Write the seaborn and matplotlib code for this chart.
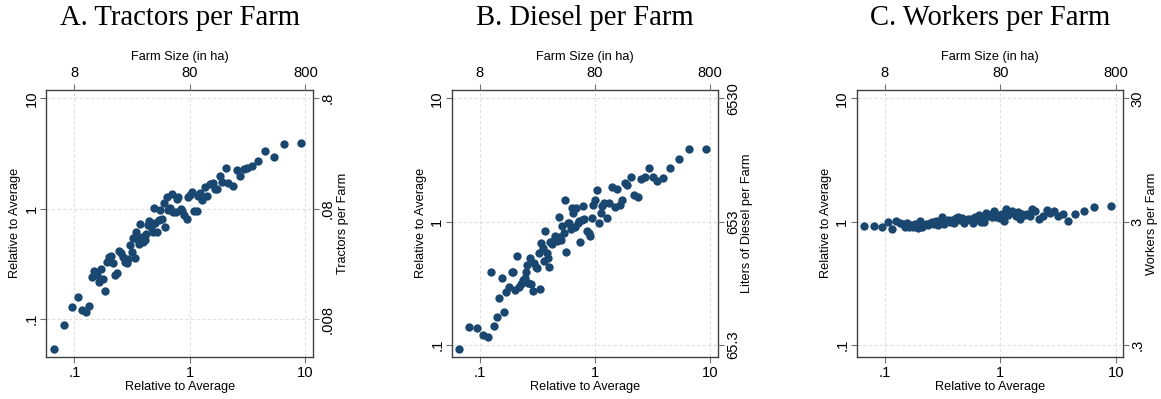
import matplotlib
matplotlib.use("Agg")
import numpy as np
import pandas as pd
import seaborn as sns
import matplotlib.pyplot as plt
from matplotlib.ticker import NullLocator

# ---------------- data (relative to average) ----------------
x_a = [0.0669,0.0811,0.0958,0.108,0.117,0.126,0.134,0.143,0.148,0.156,
       0.164,0.170,0.177,0.185,0.190,0.199,0.208,0.217,0.226,0.235,
       0.241,0.253,0.265,0.274,0.283,0.292,0.302,0.317,0.321,0.334,
       0.341,0.350,0.362,0.369,0.382,0.394,0.405,0.416,0.436,0.444,
       0.460,0.475,0.491,0.498,0.514,0.536,0.550,0.568,0.592,0.611,
       0.628,0.649,0.671,0.703,0.717,0.751,0.777,0.792,0.830,0.858,
       0.887,0.936,0.967,1.0,1.047,1.083,1.142,1.181,1.221,1.279,
       1.340,1.413,1.490,1.571,1.646,1.724,1.818,1.905,2.05,2.147,
       2.341,2.535,2.728,2.935,3.136,3.465,3.905,4.461,5.30,6.515,9.08]
y_a = [0.0535,0.0888,0.129,0.159,0.122,0.117,0.131,0.242,0.274,0.250,
       0.218,0.284,0.232,0.181,0.331,0.367,0.375,0.320,0.250,0.259,
       0.416,0.399,0.367,0.331,0.320,0.347,0.469,0.402,0.542,0.360,
       0.619,0.527,0.475,0.726,0.557,0.502,0.520,0.590,0.711,0.778,
       0.687,0.619,1.007,0.736,0.619,0.790,0.973,0.800,1.133,0.687,
       1.267,0.973,1.007,1.349,0.939,0.926,1.224,1.267,0.986,0.953,
       0.876,0.800,1.285,1.330,1.426,0.959,0.959,1.302,1.377,1.198,
       1.561,1.302,1.662,1.696,1.497,1.518,1.977,1.757,2.321,1.696,
       1.605,2.241,1.977,2.305,2.321,2.436,2.704,3.332,2.960,3.83,3.94]

x_b = [0.0664,0.0805,0.0951,0.107,0.117,0.125,0.133,0.141,0.148,0.155,
       0.163,0.170,0.179,0.189,0.195,0.203,0.210,0.217,0.228,0.238,
       0.245,0.250,0.259,0.264,0.271,0.278,0.290,0.297,0.307,0.316,
       0.324,0.331,0.342,0.351,0.363,0.370,0.380,0.388,0.399,0.410,
       0.423,0.438,0.452,0.465,0.480,0.490,0.503,0.520,0.538,0.553,
       0.564,0.583,0.599,0.615,0.631,0.644,0.666,0.684,0.707,0.731,
       0.746,0.766,0.792,0.808,0.847,0.881,0.911,0.942,0.967,1.007,
       1.034,1.083,1.120,1.158,1.205,1.271,1.332,1.405,1.482,1.563,
       1.637,1.727,1.822,1.909,2.040,2.181,2.362,2.526,2.735,2.963,
       3.210,3.477,3.894,4.479,5.327,6.506,9.14]
y_b = [0.0928,0.139,0.137,0.121,0.117,0.388,0.143,0.170,0.240,0.349,
       0.186,0.269,0.294,0.393,0.391,0.279,0.530,0.297,0.310,0.337,
       0.347,0.388,0.445,0.316,0.504,0.312,0.276,0.459,0.432,0.418,
       0.561,0.284,0.667,0.615,0.480,0.845,0.554,0.504,0.432,0.680,
       0.655,0.710,0.765,0.693,0.756,1.098,0.710,0.928,0.804,1.499,
       0.571,0.969,0.981,0.872,1.283,1.168,0.911,1.283,0.969,1.006,
       0.680,1.032,1.348,1.051,0.845,0.804,0.770,1.064,1.365,1.499,
       1.806,0.981,1.168,1.340,1.408,1.071,1.426,1.922,1.323,1.852,
       1.374,1.499,2.071,1.983,2.288,1.655,1.595,2.204,2.288,2.707,
       2.288,2.123,2.274,2.723,3.202,3.860,3.860]

x_c = [0.0665,0.0806,0.0951,0.107,0.115,0.125,0.135,0.143,0.148,0.155,
       0.161,0.167,0.174,0.181,0.189,0.195,0.202,0.208,0.218,0.227,
       0.236,0.246,0.256,0.267,0.277,0.287,0.300,0.313,0.325,0.339,
       0.352,0.367,0.382,0.397,0.413,0.430,0.447,0.466,0.485,0.504,
       0.525,0.553,0.576,0.599,0.624,0.649,0.676,0.703,0.727,0.751,
       0.782,0.814,0.847,0.882,0.917,0.954,0.993,1.034,1.076,1.112,
       1.157,1.205,1.254,1.305,1.358,1.413,1.480,1.550,1.624,1.713,
       1.795,1.880,2.009,2.162,2.326,2.518,2.710,2.935,3.178,3.465,
       3.853,4.431,5.266,6.471,9.02]
y_c = [0.922,0.917,0.911,0.988,0.877,1.012,0.981,0.957,0.911,0.981,
       0.911,0.934,0.911,0.957,0.928,0.889,1.006,0.911,0.934,0.957,
       0.946,0.969,0.988,0.957,1.006,0.946,1.006,1.084,0.957,1.006,
       1.032,1.000,1.032,0.981,1.064,1.084,1.038,1.064,0.981,1.032,
       1.044,1.058,0.969,1.098,1.058,1.140,0.988,1.098,0.994,1.168,
       1.111,1.140,1.098,1.213,1.098,1.132,1.071,1.154,1.012,1.275,
       1.140,1.198,1.228,1.168,1.111,1.198,1.044,1.147,1.140,1.154,
       1.111,1.259,1.213,1.058,1.119,1.243,1.168,1.228,1.111,1.154,
       1.019,1.154,1.213,1.315,1.348]

titles = ["A. Tractors per Farm", "B. Diesel per Farm", "C. Workers per Farm"]
right_titles = ["Tractors per Farm", "Liters of Diesel per Farm", "Workers per Farm"]
rel_ticks = [0.1, 1, 10]
rel_labels = [".1", "1", "10"]
size_ticks = [8, 80, 800]
size_labels = ["8", "80", "800"]
right_ticks = [[0.008, 0.08, 0.8], [65.3, 653, 6530], [0.3, 3, 30]]
right_labels = [[".008", ".08", ".8"], ["65.3", "653", "6530"], [".3", "3", "30"]]
right_scale = [0.08, 653, 3]
size_scale = 80

# ---------------- styling ----------------
sns.set_style("white")
plt.rcParams["font.family"] = ["Liberation Sans", "DejaVu Sans"]
plt.rcParams["text.color"] = "black"
plt.rcParams["xtick.labelcolor"] = "black"
plt.rcParams["ytick.labelcolor"] = "black"

W, H = 1161, 399
fig = plt.figure(figsize=(W / 100, H / 100), dpi=100)

boxes = [(46, 90, 313.3, 356.7), (451.7, 90, 718.3, 356.7), (856.7, 90, 1123.3, 356.7)]
xlims = [(-1.2468, 1.068), (-1.2446, 1.0709), (-1.2439, 1.065)]
ylims = [(-1.341, 1.0755), (-1.0946, 1.0676), (-1.0946, 1.0676)]
right_label_x = [343, 747, 1152]

navy = "#1a476f"
frame_c = "#404040"
tick_c = "#707070"
grid_c = "#e0e0e0"
TICK_FS = 10.6
LAB_FS = 9.2

panels = [(x_a, y_a), (x_b, y_b), (x_c, y_c)]
for i, (xs, ys) in enumerate(panels):
    l, t, r, b = boxes[i]
    ax = fig.add_axes([l / W, 1 - b / H, (r - l) / W, (b - t) / H])
    df = pd.DataFrame({"rel_size": xs, "rel_val": ys})
    sns.scatterplot(data=df, x="rel_size", y="rel_val", ax=ax, color=navy,
                    s=36, linewidth=0, zorder=3)
    ax.set_xscale("log")
    ax.set_yscale("log")
    ax.set_xlim(10 ** xlims[i][0], 10 ** xlims[i][1])
    ax.set_ylim(10 ** ylims[i][0], 10 ** ylims[i][1])
    ax.set_xticks(rel_ticks)
    ax.set_xticklabels(rel_labels, fontsize=TICK_FS)
    ax.set_yticks(rel_ticks)
    ax.set_yticklabels(rel_labels, fontsize=TICK_FS, rotation=90, va="center")
    ax.xaxis.set_minor_locator(NullLocator())
    ax.yaxis.set_minor_locator(NullLocator())
    ax.set_xlabel("")
    ax.set_ylabel("")
    ax.tick_params(axis="both", which="major", direction="out", length=4.3,
                   width=0.8, color=tick_c, labelcolor="black", bottom=True,
                   left=True, top=False, right=False)
    ax.tick_params(axis="x", pad=2.6)
    ax.tick_params(axis="y", pad=1.0)
    ax.grid(True, which="major", color=grid_c, linestyle=(0, (3, 2)), linewidth=0.8)
    ax.set_axisbelow(True)
    for sp in ax.spines.values():
        sp.set_color(frame_c)
        sp.set_linewidth(1.0)

    # top axis: farm size in ha
    axt = ax.twiny()
    axt.set_xscale("log")
    axt.set_xlim(size_scale * 10 ** xlims[i][0], size_scale * 10 ** xlims[i][1])
    axt.set_xticks(size_ticks)
    axt.set_xticklabels(size_labels, fontsize=TICK_FS)
    axt.xaxis.set_minor_locator(NullLocator())
    axt.tick_params(axis="x", direction="out", length=4.3, width=0.8,
                    color=tick_c, labelcolor="black", top=True, pad=3.0)
    for sp in axt.spines.values():
        sp.set_visible(False)

    # right axis: level per farm
    axr = ax.twinx()
    axr.set_yscale("log")
    k = right_scale[i]
    axr.set_ylim(k * 10 ** ylims[i][0], k * 10 ** ylims[i][1])
    axr.set_yticks(right_ticks[i])
    axr.set_yticklabels(right_labels[i], fontsize=TICK_FS, rotation=90, va="center")
    axr.yaxis.set_minor_locator(NullLocator())
    axr.tick_params(axis="y", direction="out", length=4.3, width=0.8,
                    color=tick_c, labelcolor="black", right=True, pad=1.2)
    for sp in axr.spines.values():
        sp.set_visible(False)

    cx = (l + r) / 2
    cy = (t + b) / 2
    fig.text(cx / W, 1 - 25 / H, titles[i], ha="center", va="baseline",
             fontsize=20.6, color="black",
             family=["Liberation Serif", "DejaVu Serif"])
    fig.text(cx / W, 1 - 57 / H, "Farm Size (in ha)", ha="center", va="center",
             fontsize=LAB_FS, color="black")
    fig.text(cx / W, 1 - 387 / H, "Relative to Average", ha="center", va="center",
             fontsize=LAB_FS, color="black")
    fig.text((l - 31) / W, 1 - cy / H, "Relative to Average", ha="center",
             va="center", rotation=90, fontsize=LAB_FS, color="black")
    fig.text(right_label_x[i] / W, 1 - cy / H, right_titles[i], ha="center",
             va="center", rotation=90, fontsize=LAB_FS, color="black")

fig.savefig("out.png", dpi=100, facecolor="white")
